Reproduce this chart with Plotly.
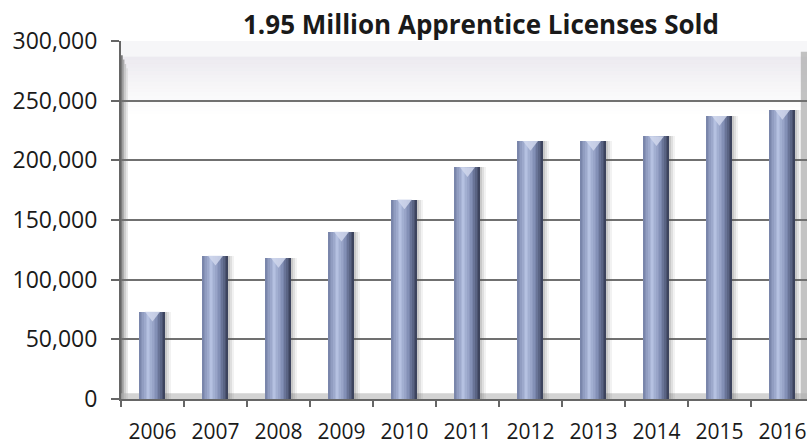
import plotly.graph_objects as go

# ---- data ----
years = ["2006", "2007", "2008", "2009", "2010", "2011", "2012", "2013", "2014", "2015", "2016"]
licenses = [73000, 120000, 118000, 140000, 167000, 194000, 216000, 216000, 220000, 237000, 242000]
y_ticks = [0, 50000, 100000, 150000, 200000, 250000, 300000]
y_tick_labels = ["0", "50,000", "100,000", "150,000", "200,000", "250,000", "300,000"]
title = "1.95 Million Apprentice Licenses Sold"

FONT = "Open Sans"
BW = 0.405  # bar width in category units
N = 16      # slices for cylinder shading


def lerp(c1, c2, t):
    return tuple(int(round(a + (b - a) * t)) for a, b in zip(c1, c2))


def cyl_color(t):
    left = (116, 128, 166)
    hi = (182, 194, 226)
    mid = (124, 137, 176)
    dark = (54, 60, 84)
    if t < 0.35:
        c = lerp(left, hi, t / 0.35)
    elif t < 0.7:
        c = lerp(hi, mid, (t - 0.35) / 0.35)
    else:
        c = lerp(mid, dark, (t - 0.7) / 0.3)
    return "rgb(%d,%d,%d)" % c


fig = go.Figure()

# soft drop shadow to the right of each bar
for off, op in [(0.03, 0.16), (0.06, 0.12), (0.095, 0.08)]:
    fig.add_trace(go.Bar(
        x=years, y=licenses, width=BW, offset=-BW / 2 + off,
        marker=dict(color="rgba(90,90,90,%.2f)" % op, line=dict(width=0)),
        hoverinfo="skip", showlegend=False))

# cylinder bars built from thin slices
for i in range(N):
    t = (i + 0.5) / N
    fig.add_trace(go.Bar(
        x=years, y=licenses, width=BW / N + 0.002, offset=-BW / 2 + i * BW / N,
        marker=dict(color=cyl_color(t), line=dict(width=0)),
        hoverinfo="skip", showlegend=False))

# light bevel on the bar tops
fig.add_trace(go.Scatter(
    x=years, y=[v - 2600 for v in licenses], mode="markers",
    marker=dict(symbol="triangle-down", size=13, color="rgba(208,215,236,0.85)",
                line=dict(width=0)),
    hoverinfo="skip", showlegend=False))

shapes = []
# back wall: lavender-grey band near the top fading to white
band_top = 287000
steps = 16
for k in range(steps):
    y0 = band_top - (k + 1) * 3000
    y1 = band_top - k * 3000
    op = 0.22 * (1 - k / steps) ** 1.2
    shapes.append(dict(type="rect", xref="paper", yref="y", x0=0, x1=1, y0=y0, y1=y1,
                       fillcolor="rgba(170,160,185,%.3f)" % op, line=dict(width=0), layer="below"))
shapes.append(dict(type="rect", xref="paper", yref="y", x0=0, x1=1, y0=band_top, y1=300000,
                   fillcolor="rgba(238,238,242,0.5)", line=dict(width=0), layer="below"))
# left wall strip
for k, col in enumerate(["rgba(110,110,110,0.9)", "rgba(150,150,150,0.8)", "rgba(185,185,185,0.7)",
                         "rgba(210,210,210,0.6)"]):
    shapes.append(dict(type="rect", xref="paper", yref="paper",
                       x0=k * 0.0025, x1=(k + 1) * 0.0025, y0=0, y1=0.96 - k * 0.012,
                       fillcolor=col, line=dict(width=0), layer="below"))
# right wall strip
shapes.append(dict(type="rect", xref="paper", yref="paper", x0=0.991, x1=1, y0=0, y1=0.97,
                   fillcolor="rgba(175,175,175,0.75)", line=dict(width=0), layer="below"))
# floor
shapes.append(dict(type="rect", xref="paper", yref="paper", x0=0, x1=1, y0=0, y1=0.016,
                   fillcolor="rgba(175,175,175,0.55)", line=dict(width=0), layer="below"))

fig.update_layout(
    width=807, height=445, autosize=False,
    margin=dict(l=121, r=0, t=41, b=44, pad=0),
    paper_bgcolor="white", plot_bgcolor="white",
    barmode="overlay", bargap=0,
    shapes=shapes,
    showlegend=False,
    title=dict(text="<b>" + title + "</b>", x=481 / 807, xref="container", xanchor="center",
               y=1 - 25 / 445, yref="container", yanchor="middle",
               font=dict(family=FONT, size=26, color="#1a1a1a")),
    xaxis=dict(type="category", range=[-0.5, 10.39], ticks="outside", tickson="boundaries",
               ticklen=6, tickcolor="#666", tickwidth=1.5,
               showline=True, linecolor="#666", linewidth=2, showgrid=False,
               tickfont=dict(family=FONT, size=21, color="#1a1a1a"), ticklabelstandoff=13),
    yaxis=dict(range=[0, 300000], tickvals=y_ticks, ticktext=y_tick_labels,
               ticks="outside", ticklen=8, tickcolor="#666", tickwidth=1.5,
               showline=True, linecolor="#666", linewidth=2,
               showgrid=True, gridcolor="#707070", gridwidth=1.5, zeroline=False,
               tickfont=dict(family=FONT, size=23, color="#1a1a1a"), ticklabelstandoff=9),
)

fig.write_html("out.html")
